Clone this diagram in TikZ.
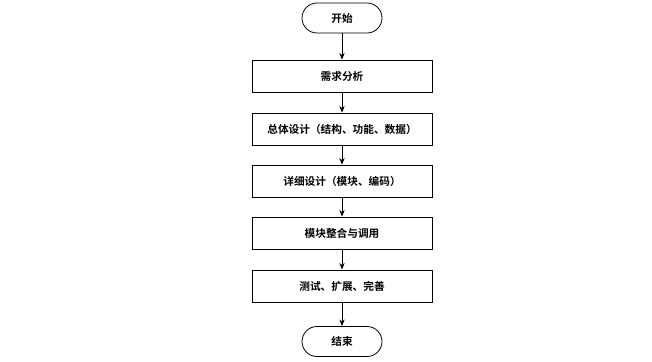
\documentclass[tikz,border=0pt]{standalone}
\usepackage{fontspec}
\newfontfamily\cjk{Noto Sans CJK SC Bold}
\usetikzlibrary{arrows.meta}
\begin{document}
\begin{tikzpicture}[x=0.75pt,y=-0.75pt,
  stepbox/.style={draw,line width=0.6pt,minimum width=135pt,minimum height=24pt,inner sep=0pt,font=\cjk\fontsize{8}{9.6}\selectfont},
  termbox/.style={draw,line width=0.6pt,rounded corners=11.25pt,minimum width=60pt,minimum height=22.5pt,inner sep=0pt,font=\cjk\fontsize{8}{9.6}\selectfont},
  arr/.style={line width=0.6pt,-{Stealth[length=5pt,width=4pt]}}]
\useasboundingbox (0,0) rectangle (652,361);
\node[termbox] (s) at (342,18) {开始};
\node[stepbox] (a) at (342,76) {需求分析};
\node[stepbox] (b) at (342,129) {总体设计（结构、功能、数据）};
\node[stepbox] (c) at (342,181) {详细设计（模块、编码）};
\node[stepbox] (d) at (342,233) {模块整合与调用};
\node[stepbox] (e) at (342,286) {测试、扩展、完善};
\node[termbox] (f) at (342,341.5) {结束};
\draw[arr] (s) -- (a);
\draw[arr] (a) -- (b);
\draw[arr] (b) -- (c);
\draw[arr] (c) -- (d);
\draw[arr] (d) -- (e);
\draw[arr] (e) -- (f);
\end{tikzpicture}
\end{document}
